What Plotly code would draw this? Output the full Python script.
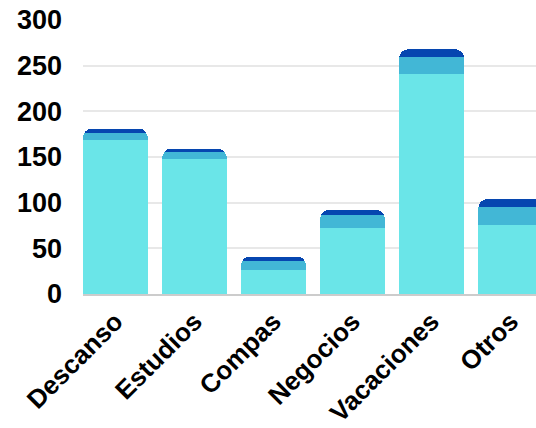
import plotly.graph_objects as go

categories = ["Descanso", "Estudios", "Compas", "Negocios", "Vacaciones", "Otros"]
serie_base = [169, 148, 26, 72, 241, 76]
serie_media = [7, 7, 10, 14, 19, 19]
serie_alta = [5, 4, 5, 6, 8, 9]
y_ticks = [0, 50, 100, 150, 200, 250, 300]

colors = ["#6ae5e8", "#42b7d6", "#0646b0"]

fig = go.Figure()
for vals, col, name in zip([serie_base, serie_media, serie_alta], colors, ["A", "B", "C"]):
    fig.add_trace(go.Bar(x=categories, y=vals, name=name, marker=dict(color=col, line=dict(width=0))))

fig.update_layout(
    barmode="stack",
    barcornerradius=9,
    bargap=0.18,
    width=536, height=428,
    margin=dict(l=83, r=0, t=20, b=134),
    showlegend=False,
    plot_bgcolor="white", paper_bgcolor="white",
    font=dict(family="Liberation Sans, Arial", color="#000000"),
    xaxis=dict(range=[-0.41, 5.32], tickangle=-45, showgrid=False, automargin=False,
               ticklabeloverflow="allow",
               tickfont=dict(size=26, family="Liberation Sans, Arial", weight="bold"),
               showline=True, linecolor="#cccccc", linewidth=2),
    yaxis=dict(range=[0, 300.01], tickvals=y_ticks, gridcolor="#e8e8e8", gridwidth=2,
               zeroline=False, ticklabelstandoff=20, automargin=False,
               ticklabeloverflow="allow",
               tickfont=dict(size=27, family="Liberation Sans, Arial", weight="bold")),
)
fig.write_html("out.html", config={"displayModeBar": False},
               post_script="document.body.style.margin='0';document.body.style.overflow='hidden';")
